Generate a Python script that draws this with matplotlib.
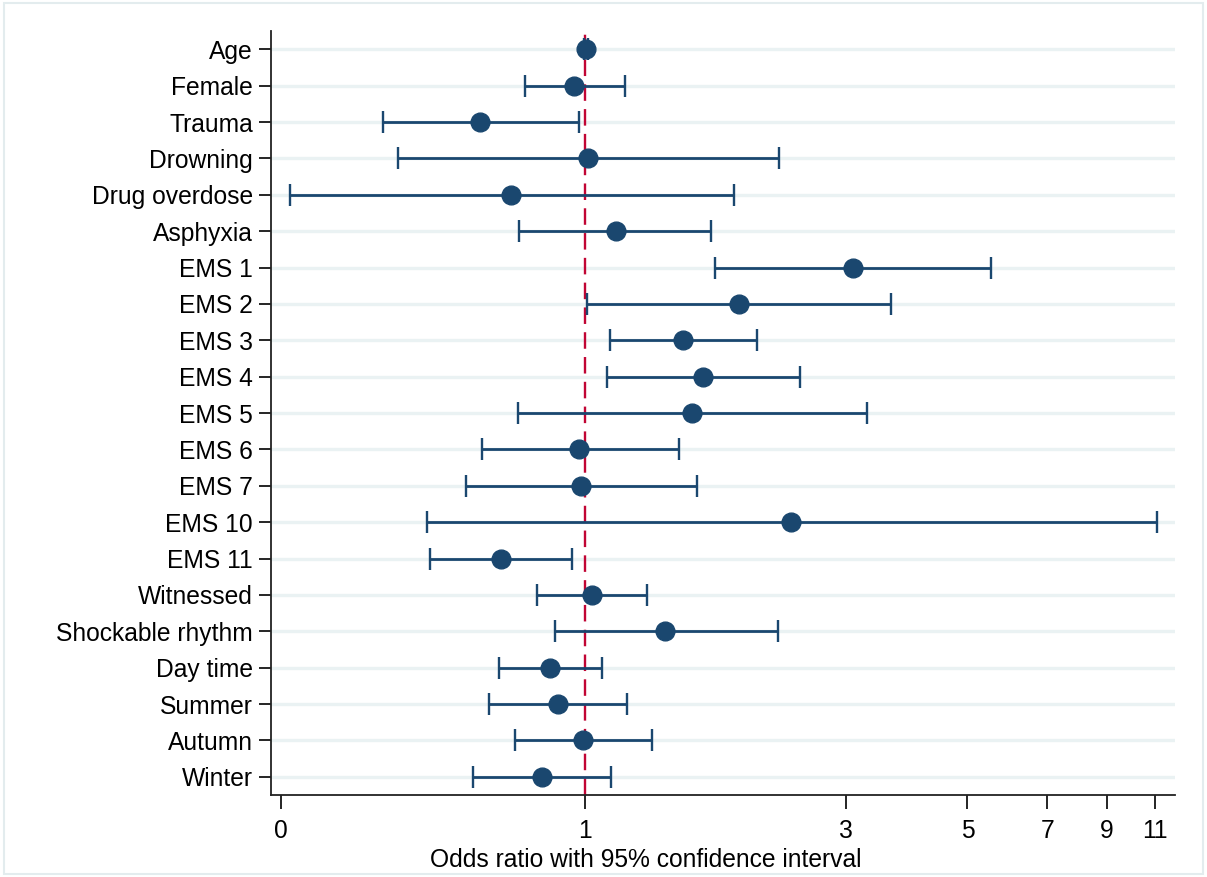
import matplotlib
matplotlib.use('Agg')
import matplotlib.pyplot as plt
from matplotlib.patches import Rectangle
import numpy as np

plt.rcParams['font.family'] = ['Liberation Sans', 'DejaVu Sans']

# ---- data (odds ratios with 95% CI) ----
labels = ["Age", "Female", "Trauma", "Drowning", "Drug overdose", "Asphyxia",
          "EMS 1", "EMS 2", "EMS 3", "EMS 4", "EMS 5", "EMS 6", "EMS 7",
          "EMS 10", "EMS 11", "Witnessed", "Shockable rhythm", "Day time",
          "Summer", "Autumn", "Winter"]
odds = [1.004, 0.955, 0.643, 1.013, 0.732, 1.139, 3.09, 1.91, 1.51, 1.643,
        1.569, 0.975, 0.983, 2.38, 0.702, 1.03, 1.40, 0.863, 0.893, 0.992, 0.834]
ci_low = [0.995, 0.777, 0.427, 0.455, 0.289, 0.757, 1.73, 1.008, 1.111, 1.097,
          0.754, 0.648, 0.606, 0.514, 0.521, 0.817, 0.881, 0.696, 0.668, 0.745, 0.624]
ci_high = [1.013, 1.183, 0.975, 2.26, 1.87, 1.70, 5.52, 3.62, 2.06, 2.47,
           3.28, 1.485, 1.60, 11.1, 0.947, 1.30, 2.25, 1.074, 1.193, 1.326, 1.116]

xtick_vals = [0.278, 1, 3, 5, 7, 9, 11]
xtick_text = ["0", "1", "3", "5", "7", "9", "11"]

NAVY = '#1a476f'
GRID = '#eaf2f3'
RED = '#c10534'

fig = plt.figure(figsize=(12.07, 8.77), dpi=100)
fig.patch.set_facecolor('white')
ax = fig.add_axes([0.2245, 0.0935, 0.749, 0.871])

y = np.arange(len(labels))
odds = np.array(odds)
err = np.array([odds - np.array(ci_low), np.array(ci_high) - odds])

for yy in y:
    ax.axhline(yy, color=GRID, lw=2.4, zorder=0)

ax.axvline(1, color=RED, lw=1.7, ls=(0, (7, 3.5)), zorder=1)

ax.errorbar(odds, y, xerr=err, fmt='o', color=NAVY, ecolor=NAVY,
            elinewidth=2.0, capsize=8, capthick=1.7, markersize=13.5, zorder=3)

ax.set_xscale('log')
ax.set_xlim(0.2667, 11.98)
ax.set_ylim(20.5, -0.5)
ax.set_xticks(xtick_vals)
ax.set_xticklabels(xtick_text)
ax.minorticks_off()
ax.set_yticks(y)
ax.set_yticklabels(labels)

ax.tick_params(axis='both', labelsize=17.7, colors='black', width=1.2)
ax.tick_params(axis='y', length=9, pad=4)
ax.tick_params(axis='x', length=10, pad=7)
ax.set_xlabel("Odds ratio with 95% confidence interval", fontsize=17.7)
ax.xaxis.set_label_coords(0.415, -0.069)

for s in ['top', 'right']:
    ax.spines[s].set_visible(False)
for s in ['left', 'bottom']:
    ax.spines[s].set_linewidth(1.3)
    ax.spines[s].set_color('#222222')

fig.patches.append(Rectangle((0.003, 0.003), 0.994, 0.994, transform=fig.transFigure,
                             fill=False, edgecolor='#e3ecee', lw=1.5))

fig.savefig("out.png", dpi=100)
